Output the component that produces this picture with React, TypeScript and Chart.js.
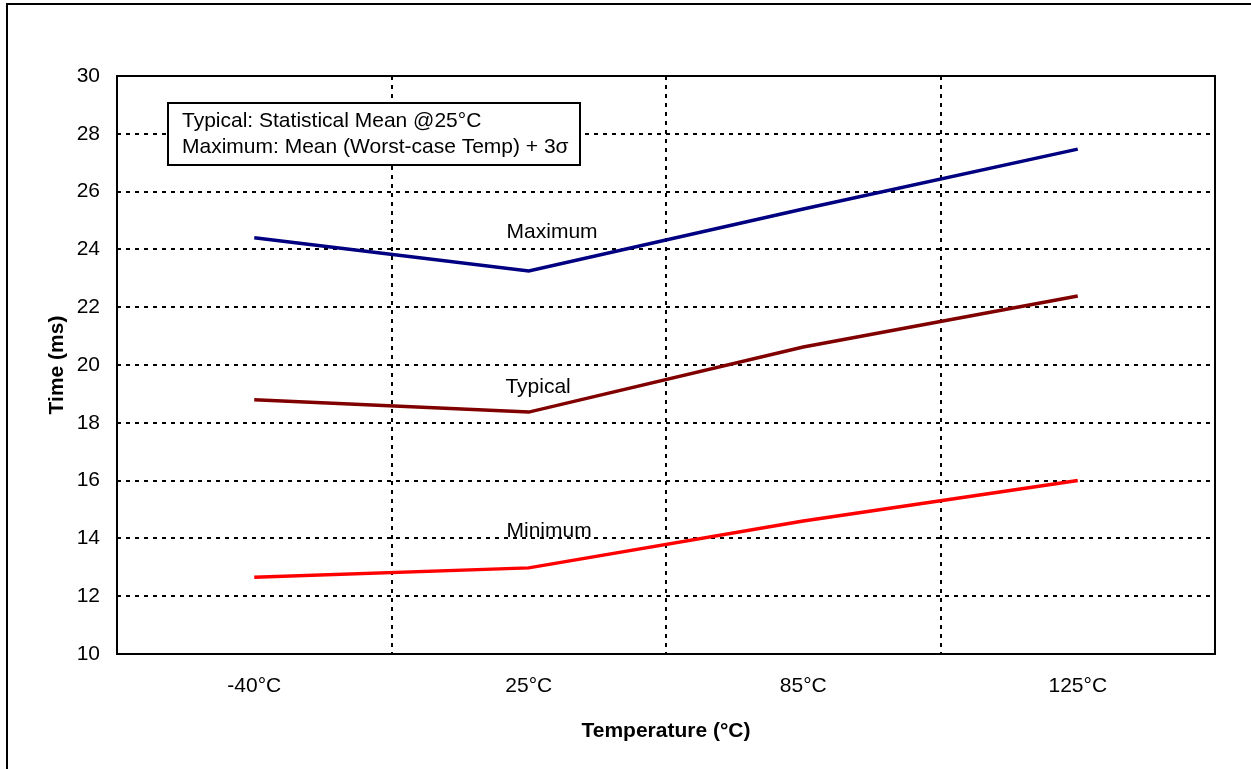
import React, { useEffect, useRef } from "react";
import { Chart, registerables } from "chart.js";

Chart.register(...registerables);

const categories = ["-40°C", "25°C", "85°C", "125°C"];
const maximumValues = [24.4, 23.25, 25.4, 27.47];
const typicalValues = [18.8, 18.37, 20.62, 22.39];
const minimumValues = [12.66, 12.98, 14.6, 16.0];

const seriesNames = ["Maximum", "Typical", "Minimum"];
const seriesColors = ["#000080", "#800000", "#ff0000"];
// in-plot series labels, in data units (x = category index, y = ms)
const labelX = [1.085, 1.034, 1.074];
const labelY = [24.6, 19.24, 14.26];

const noteLines = [
  "Typical: Statistical Mean @25°C",
  "Maximum: Mean (Worst-case Temp) + 3σ",
];

const yMin = 10;
const yMax = 30;
const yStep = 2;

const FONT = "Arial, 'Liberation Sans', sans-serif";
const FS = 21;

const decorPlugin = {
  id: "decor",
  beforeDatasetsDraw(chart: any) {
    const { ctx, chartArea } = chart;
    ctx.save();
    // note box
    const bx = chartArea.left + 51;
    const by = chartArea.top + 27;
    const bw = 412;
    const bh = 62;
    ctx.fillStyle = "#ffffff";
    ctx.fillRect(bx, by, bw, bh);
    ctx.lineWidth = 2;
    ctx.strokeStyle = "#000";
    ctx.strokeRect(bx, by, bw, bh);
    ctx.fillStyle = "#000";
    ctx.font = `${FS}px ${FONT}`;
    ctx.textBaseline = "middle";
    ctx.textAlign = "left";
    noteLines.forEach((t, i) => {
      ctx.fillText(t, bx + 14, by + 18 + i * 26);
    });
    ctx.restore();
  },
  afterDatasetsDraw(chart: any) {
    const { ctx } = chart;
    const xs = chart.scales.x;
    const ys = chart.scales.y;
    ctx.save();
    ctx.fillStyle = "#000";
    ctx.font = `${FS}px ${FONT}`;
    ctx.textBaseline = "middle";
    ctx.textAlign = "center";
    seriesNames.forEach((n, i) => {
      ctx.fillText(n, xs.getPixelForValue(labelX[i]), ys.getPixelForValue(labelY[i]));
    });
    ctx.restore();
  },
  afterDraw(chart: any) {
    const { ctx, chartArea, width, height } = chart;
    ctx.save();
    ctx.strokeStyle = "#000";
    ctx.lineWidth = 2;
    ctx.setLineDash([]);
    ctx.strokeRect(
      chartArea.left,
      chartArea.top,
      chartArea.right - chartArea.left,
      chartArea.bottom - chartArea.top
    );
    // outer frame (left and top edges visible)
    ctx.beginPath();
    ctx.moveTo(7, height);
    ctx.lineTo(7, 4);
    ctx.lineTo(width, 4);
    ctx.stroke();
    ctx.restore();
  },
};

export default function App() {
  const ref = useRef<HTMLCanvasElement>(null);
  useEffect(() => {
    document.body.style.margin = "0";
    const canvas = ref.current;
    if (!canvas) return;
    const chart = new Chart(canvas, {
      type: "line",
      data: {
        labels: categories,
        datasets: [
          { label: seriesNames[0], data: maximumValues, borderColor: seriesColors[0] },
          { label: seriesNames[1], data: typicalValues, borderColor: seriesColors[1] },
          { label: seriesNames[2], data: minimumValues, borderColor: seriesColors[2] },
        ].map((d) => ({
          ...d,
          borderWidth: 3.5,
          pointRadius: 0,
          pointHoverRadius: 0,
          tension: 0,
          fill: false,
        })),
      },
      options: {
        responsive: false,
        animation: false,
        devicePixelRatio: 1,
        layout: { padding: { top: 76, right: 36, left: 0, bottom: 0 } },
        plugins: {
          legend: { display: false },
          tooltip: { enabled: false },
          title: { display: false },
        },
        scales: {
          x: {
            type: "category",
            offset: true,
            afterFit: (s: any) => {
              s.height = 115;
            },
            grid: {
              offset: true,
              color: "#000",
              lineWidth: 2,
              drawTicks: false,
            },
            border: { display: false, dash: [4, 5] },
            ticks: {
              color: "#000",
              font: { family: FONT, size: FS },
              padding: 20,
              maxRotation: 0,
            },
            title: {
              display: true,
              text: "Temperature (°C)",
              color: "#000",
              font: { family: FONT, size: FS, weight: "bold" },
              padding: { top: 0, bottom: 25 },
            },
          },
          y: {
            min: yMin,
            max: yMax,
            afterFit: (s: any) => {
              s.width = 117;
            },
            grid: {
              color: "#000",
              lineWidth: 2,
              drawTicks: false,
            },
            border: { display: false, dash: [4, 5] },
            ticks: {
              stepSize: yStep,
              color: "#000",
              font: { family: FONT, size: FS },
              padding: 17,
            },
            title: {
              display: true,
              text: "Time (ms)",
              color: "#000",
              font: { family: FONT, size: FS, weight: "bold" },
              padding: { top: 45, bottom: 0 },
            },
          },
        },
      },
      plugins: [decorPlugin],
    });
    return () => chart.destroy();
  }, []);
  return (
    <canvas
      ref={ref}
      width={1251}
      height={769}
      style={{ display: "block", width: 1251, height: 769 }}
    />
  );
}
